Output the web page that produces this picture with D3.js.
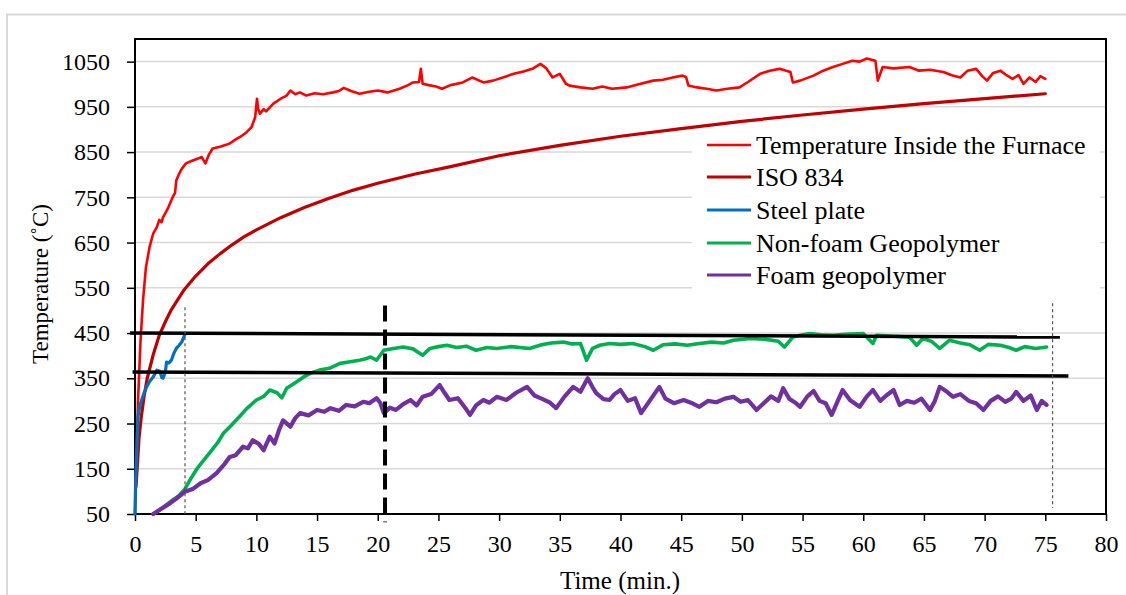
<!DOCTYPE html>
<html>
<head>
<meta charset="utf-8">
<script src="https://cdn.jsdelivr.net/npm/d3@7"></script>
<style>
html,body{margin:0;padding:0;background:#fff;}
svg{display:block;font-family:"Liberation Serif","Times New Roman",serif;}
</style>
</head>
<body>
<svg id="chart" width="1126" height="595"></svg>
<script>
// ---------- DATA ----------
const xTicks = [0,5,10,15,20,25,30,35,40,45,50,55,60,65,70,75,80];
const yTicks = [50,150,250,350,450,550,650,750,850,950,1050];

const seriesNames = ["Temperature Inside the Furnace","ISO 834","Steel plate","Non-foam Geopolymer","Foam geopolymer"];
const seriesColors = ["#FF0000","#C00000","#0070C0","#00B050","#7030A0"];

const furnace = [[0,50],[0.1,150],[0.25,300],[0.45,430],[0.66,522],[0.9,595],[1.2,640],[1.5,670],[1.8,684],[2.0,700],[2.2,695],[2.3,705],[2.7,725],[3.1,750],[3.3,760],[3.4,787],[3.6,800],[3.85,813],[4.2,825],[4.7,831],[5.2,836],[5.5,839],[5.8,825],[6.1,845],[6.4,858],[7.0,862],[7.5,866],[7.8,869],[8.3,878],[8.8,886],[9.2,894],[9.6,905],[9.9,927],[10.05,968],[10.15,945],[10.3,935],[10.6,945],[10.8,940],[11.4,957],[12.0,968],[12.5,975],[12.8,986],[13.2,978],[13.6,982],[14.1,975],[14.8,980],[15.5,978],[16.3,982],[16.8,985],[17.2,992],[17.8,985],[18.5,979],[19.2,983],[20.0,986],[20.8,982],[21.8,990],[22.5,998],[22.9,1004],[23.4,1005],[23.55,1034],[23.7,1001],[24.2,998],[24.8,995],[25.3,990],[26.0,998],[27.0,1004],[27.8,1015],[28.7,1004],[29.5,1008],[30.3,1015],[31.2,1023],[32.0,1028],[32.8,1035],[33.4,1045],[33.9,1035],[34.4,1015],[35.0,1023],[35.5,1001],[35.8,997],[36.7,993],[37.7,990],[38.5,995],[39.3,990],[40.5,993],[41.5,1000],[42.7,1008],[43.5,1010],[44.3,1015],[45.1,1019],[45.4,1016],[45.6,997],[46.3,993],[47.1,990],[47.9,986],[48.8,990],[49.8,993],[50.5,1005],[51.5,1023],[52.3,1030],[53.1,1034],[54.0,1027],[54.2,1004],[54.8,1008],[55.9,1019],[56.7,1030],[57.5,1038],[58.3,1045],[59.1,1052],[59.7,1050],[60.3,1057],[61.0,1052],[61.2,1008],[61.6,1038],[62.5,1035],[63.8,1038],[64.6,1030],[65.5,1032],[66.6,1027],[67.3,1020],[68.0,1015],[68.6,1030],[69.3,1034],[69.8,1018],[70.2,1008],[70.7,1025],[71.3,1030],[71.8,1020],[72.3,1012],[72.8,1020],[73.2,1001],[73.7,1015],[74.2,1005],[74.6,1018],[75.0,1012]];

const iso834 = [[0.08,110],[0.17,147],[0.33,218],[0.5,261],[0.75,310],[1,349],[1.5,402],[2,445],[2.5,475],[3,502],[4,544],[5,576],[6,603],[7,625],[8,645],[9,663],[10,678],[12,705],[14,728],[16,748],[18,766],[20,781],[23,801],[26,818],[30,842],[35,865],[40,885],[45,902],[50,918],[55,932],[60,945],[65,957],[70,968],[75,979]];

const steel = [[0,50],[0.05,120],[0.14,191],[0.25,265],[0.4,290],[0.55,302],[0.75,318],[0.96,331],[1.2,343],[1.5,353],[1.8,368],[2.0,366],[2.1,361],[2.2,352],[2.3,350],[2.4,356],[2.5,364],[2.6,386],[2.8,384],[3.0,390],[3.2,405],[3.4,416],[3.6,422],[3.85,430],[4.0,440],[4.1,446]];

const nonFoam = [[1.5,50],[2.2,62],[3.1,81],[3.6,90],[4.1,105],[4.6,128],[5.1,150],[5.7,170],[6.2,187],[6.8,207],[7.3,229],[7.9,245],[8.6,265],[9.2,283],[10,302],[10.6,310],[11.1,324],[11.7,318],[12.1,307],[12.5,328],[13.2,340],[13.9,353],[14.5,362],[15.2,368],[16.0,372],[16.9,383],[17.6,386],[18.5,390],[19.0,393],[19.4,397],[19.9,390],[20.5,412],[21.3,416],[22.1,419],[22.9,415],[23.7,401],[24.3,416],[25.0,420],[25.7,423],[26.5,418],[27.3,421],[28.1,412],[29.0,418],[29.8,416],[31.0,420],[32.5,416],[33.5,424],[34.3,428],[35.3,430],[36.0,426],[36.7,427],[37.2,390],[37.7,416],[38.3,423],[39.1,427],[40.0,425],[41.0,427],[42.0,420],[42.7,412],[43.5,424],[44.5,426],[45.5,423],[46.5,427],[47.5,430],[48.5,428],[49.3,434],[50.7,438],[52.0,436],[53.0,432],[53.5,419],[54.2,441],[55.0,446],[55.6,449],[56.5,446],[57.5,445],[58.5,447],[60.0,449],[60.8,427],[61.1,445],[62.5,443],[63.8,441],[64.4,423],[64.9,438],[65.6,432],[66.3,416],[67.1,434],[68.0,428],[68.8,424],[69.6,412],[70.3,425],[71.3,423],[72.0,418],[72.6,412],[73.3,420],[74.2,416],[75.1,419]];

const foam = [[1.5,50],[2.2,62],[2.9,74],[3.5,86],[4.1,99],[4.8,106],[5.4,118],[6.0,125],[6.7,140],[7.3,158],[7.8,176],[8.3,180],[8.9,199],[9.3,195],[9.7,213],[10.2,205],[10.6,191],[11.1,221],[11.5,206],[11.9,238],[12.2,257],[12.8,243],[13.2,262],[13.6,273],[14.3,268],[15.0,280],[15.6,276],[16.1,284],[16.8,278],[17.4,291],[18.1,288],[18.8,298],[19.3,295],[19.9,306],[20.2,296],[20.5,273],[21.0,285],[21.5,280],[22.1,293],[22.7,302],[23.2,290],[23.7,309],[24.4,315],[25.1,335],[25.5,318],[25.9,302],[26.6,306],[27.2,285],[27.6,269],[28.1,290],[28.7,302],[29.2,296],[29.8,309],[30.6,302],[31.4,318],[32.3,331],[32.9,312],[33.5,305],[34.2,296],[34.7,284],[35.4,310],[36.1,331],[36.7,320],[37.3,350],[37.7,330],[38.0,317],[38.6,304],[39.1,302],[39.5,315],[40.0,324],[40.6,300],[41.2,306],[41.7,273],[42.4,300],[43.2,331],[43.7,305],[44.4,295],[45.2,302],[45.8,296],[46.5,287],[47.2,300],[47.9,297],[48.6,305],[49.3,309],[49.9,298],[50.5,302],[51.2,280],[51.8,295],[52.4,310],[53.0,300],[53.4,328],[53.9,305],[54.4,296],[54.8,287],[55.4,310],[55.9,322],[56.4,300],[56.9,295],[57.4,269],[57.9,300],[58.3,324],[58.9,302],[59.7,287],[60.3,310],[60.8,324],[61.4,300],[61.9,312],[62.5,324],[63.0,291],[63.6,300],[64.2,296],[64.8,305],[65.5,280],[65.9,300],[66.3,331],[66.9,320],[67.4,309],[68.0,315],[68.7,300],[69.3,295],[69.9,280],[70.5,300],[71.1,310],[71.7,298],[72.2,305],[72.6,320],[73.2,300],[73.8,312],[74.3,280],[74.7,300],[75.1,291]];

// horizontal reference lines (time, temperature)
const limitUpper = [[-0.4,450],[76.2,441]];
const limitLower = [[-0.2,364],[76.9,355]];
// vertical markers (time, from temp, to temp)
const markerDashed = [20.6, 32, 511];
const markerDotted1 = [4.12, 50, 507];
const markerDotted2 = [75.6, 63, 516];

// ---------- CHART ----------
const svg = d3.select("#chart");
const L = 135, R = 1106, T = 39, B = 514;
const x = d3.scaleLinear().domain([0,80]).range([L,R]);
const y = d3.scaleLinear().domain([50,1100]).range([B,T]);

// outer frame
svg.append("rect").attr("x",7).attr("y",14.5).attr("width",1200).attr("height",700)
  .attr("fill","none").attr("stroke","#d9d9d9").attr("stroke-width",2);

// gridlines
svg.append("g").selectAll("line").data(yTicks.slice(1)).join("line")
  .attr("x1",L).attr("x2",R).attr("y1",d=>y(d)).attr("y2",d=>y(d))
  .attr("stroke","#d9d9d9").attr("stroke-width",1.5);

// axes
const xAxis = svg.append("g").attr("transform",`translate(0,${B})`)
  .call(d3.axisBottom(x).tickValues(xTicks).tickSize(7).tickPadding(14).tickFormat(d=>d));
const yAxis = svg.append("g").attr("transform",`translate(${L},0)`)
  .call(d3.axisLeft(y).tickValues(yTicks).tickSize(8).tickPadding(17).tickFormat(d=>d));
[xAxis,yAxis].forEach(a=>{
  a.select(".domain").remove();
  a.selectAll(".tick line").attr("stroke","#000").attr("stroke-width",1.5);
  a.selectAll(".tick text").attr("font-family","Liberation Serif").attr("font-size",24).attr("fill","#000");
});

// plot frame
svg.append("rect").attr("x",L).attr("y",T).attr("width",R-L).attr("height",B-T)
  .attr("fill","none").attr("stroke","#000").attr("stroke-width",2);

const line = d3.line().x(d=>x(d[0])).y(d=>y(d[1]));
const allSeries = [furnace, iso834, steel, nonFoam, foam];
const widths = [2.6, 3.2, 3.2, 3.6, 4.2];
const order = [1,0,3,4,2];
order.forEach(i=>{
  svg.append("path").datum(allSeries[i]).attr("d",line)
    .attr("fill","none").attr("stroke",seriesColors[i]).attr("stroke-width",widths[i])
    .attr("stroke-linejoin","round").attr("stroke-linecap","round");
});

// reference lines
[limitUpper, limitLower].forEach(s=>{
  svg.append("path").datum(s).attr("d",line).attr("fill","none")
    .attr("stroke","#000").attr("stroke-width",3.5);
});
svg.append("line").attr("x1",x(markerDashed[0])).attr("x2",x(markerDashed[0]))
  .attr("y1",y(markerDashed[2])).attr("y2",y(markerDashed[1]))
  .attr("stroke","#000").attr("stroke-width",4).attr("stroke-dasharray","16,8");
[markerDotted1, markerDotted2].forEach(m=>{
  svg.append("line").attr("x1",x(m[0])).attr("x2",x(m[0]))
    .attr("y1",y(m[2])).attr("y2",y(m[1]))
    .attr("stroke","#555").attr("stroke-width",1.2).attr("stroke-dasharray","3,3");
});

// legend
const lg = svg.append("g");
lg.append("rect").attr("x",692).attr("y",129).attr("width",408).attr("height",164).attr("fill","#fff");
const rowY = [145,177,210,243,275];
seriesNames.forEach((n,i)=>{
  lg.append("line").attr("x1",707).attr("x2",751).attr("y1",rowY[i]).attr("y2",rowY[i])
    .attr("stroke",seriesColors[i]).attr("stroke-width",i===0?2.4:3.2);
  lg.append("text").attr("x",756).attr("y",rowY[i]+9).attr("font-size",26).attr("fill","#000").text(n);
});

// axis titles
svg.append("text").attr("x",620).attr("y",589).attr("text-anchor","middle").attr("font-size",25).text("Time (min.)");
svg.append("text").attr("transform","translate(48,284) rotate(-90)").attr("text-anchor","middle")
  .attr("font-size",23).text("Temperature (˚C)");
</script>
</body>
</html>
